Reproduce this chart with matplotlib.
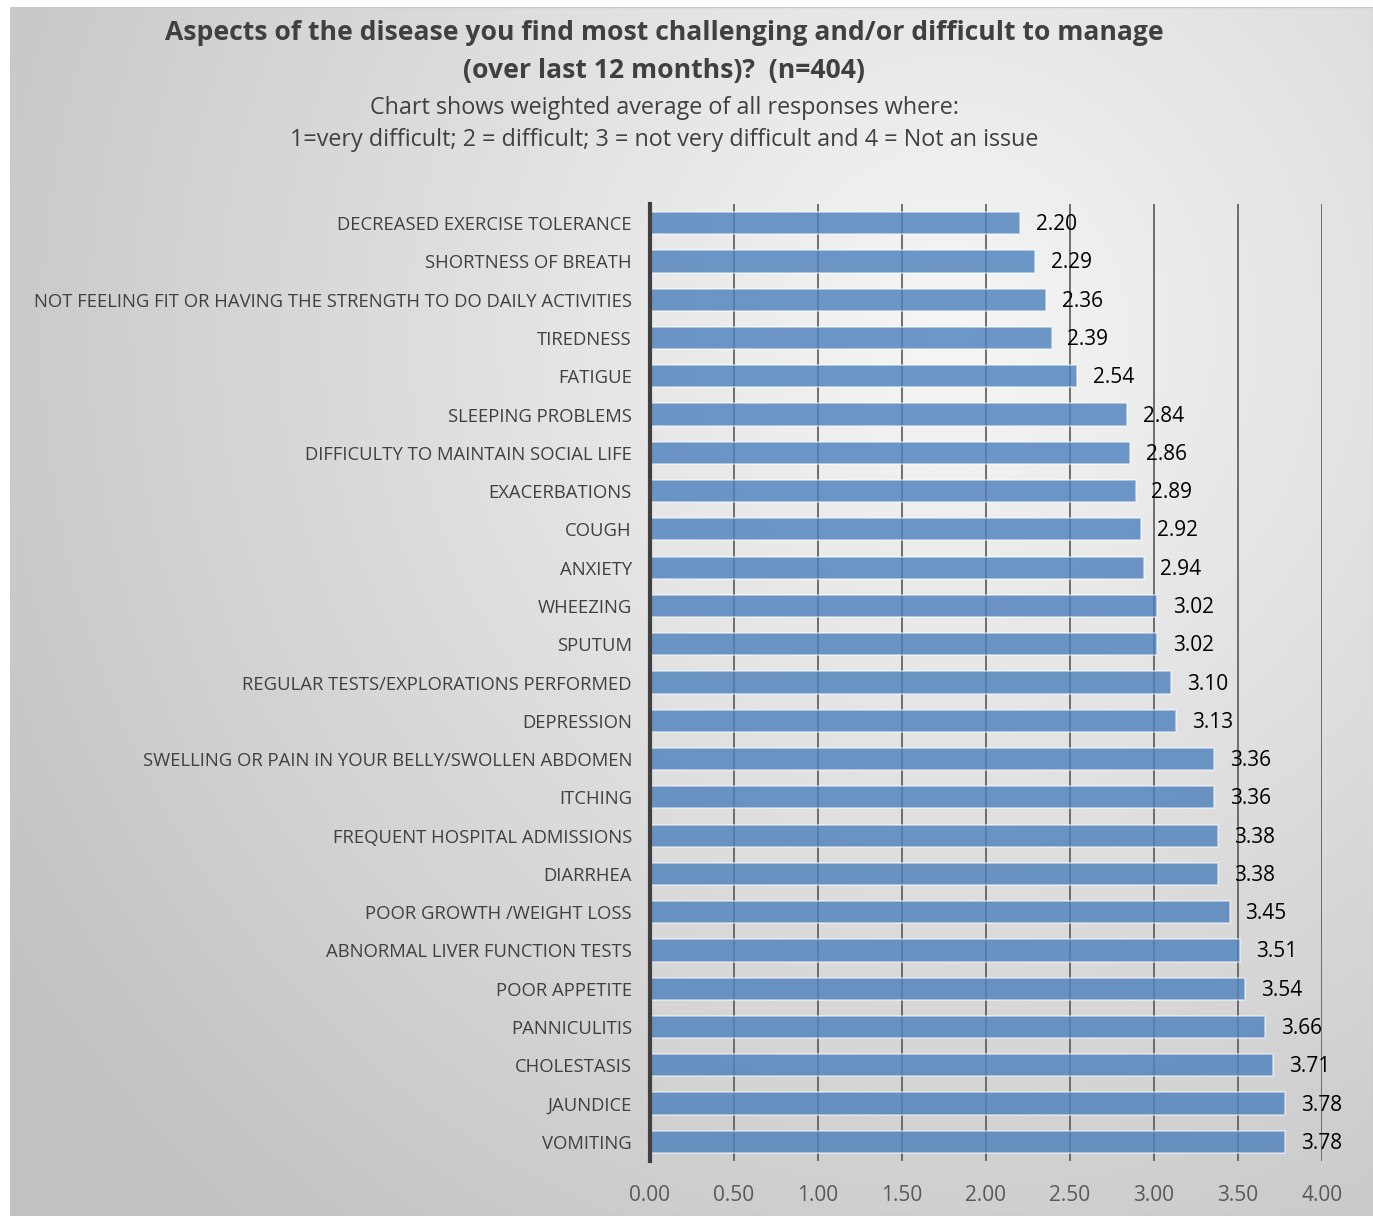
import numpy as np
import matplotlib
matplotlib.use("Agg")
import matplotlib.pyplot as plt

categories = [
    "DECREASED EXERCISE TOLERANCE",
    "SHORTNESS OF BREATH",
    "NOT FEELING FIT OR HAVING THE STRENGTH TO DO DAILY ACTIVITIES",
    "TIREDNESS",
    "FATIGUE",
    "SLEEPING PROBLEMS",
    "DIFFICULTY TO MAINTAIN SOCIAL LIFE",
    "EXACERBATIONS",
    "COUGH",
    "ANXIETY",
    "WHEEZING",
    "SPUTUM",
    "REGULAR TESTS/EXPLORATIONS PERFORMED",
    "DEPRESSION",
    "SWELLING OR PAIN IN YOUR BELLY/SWOLLEN ABDOMEN",
    "ITCHING",
    "FREQUENT HOSPITAL ADMISSIONS",
    "DIARRHEA",
    "POOR GROWTH /WEIGHT LOSS",
    "ABNORMAL LIVER FUNCTION TESTS",
    "POOR APPETITE",
    "PANNICULITIS",
    "CHOLESTASIS",
    "JAUNDICE",
    "VOMITING",
]
values = [2.20, 2.29, 2.36, 2.39, 2.54, 2.84, 2.86, 2.89, 2.92, 2.94,
          3.02, 3.02, 3.10, 3.13, 3.36, 3.36, 3.38, 3.38, 3.45, 3.51,
          3.54, 3.66, 3.71, 3.78, 3.78]
x_ticks = [0.0, 0.5, 1.0, 1.5, 2.0, 2.5, 3.0, 3.5, 4.0]

title = ("Aspects of the disease you find most challenging and/or difficult to manage\n"
         "(over last 12 months)?  (n=404)")
subtitle = ("Chart shows weighted average of all responses where:\n"
            "1=very difficult; 2 = difficult; 3 = not very difficult and 4 = Not an issue")

plt.rcParams['font.family'] = ['Open Sans', 'DejaVu Sans']

W, H = 1373, 1216
fig = plt.figure(figsize=(W / 100, H / 100), dpi=100)
fig.patch.set_facecolor("white")

# radial grey background panel
bg = fig.add_axes([10 / W, 0, (W - 10) / W, (H - 7) / H])
bg.set_axis_off()
ny, nx = 400, 450
yy, xx = np.mgrid[0:ny, 0:nx]
px = xx / nx * (W - 10) + 10
py = yy / ny * (H - 7) + 7
d = np.sqrt(((px - 950) / 1100) ** 2 + ((py - 330) / 1150) ** 2)
shade = np.clip(0.965 - 0.20 * d, 0.76, 0.97)
bg.imshow(np.dstack([shade] * 3), aspect="auto", extent=[0, 1, 0, 1],
          origin="upper", interpolation="bilinear")
bg.set_xlim(0, 1)
bg.set_ylim(0, 1)
bg.add_patch(plt.Rectangle((0, 0), 1, 1, fill=False, ec="#c8c8c8", lw=1,
                           transform=bg.transAxes))

# plotting area
x0, x1 = 650, 1322
y_top, y_bot = 204, 1161
ax = fig.add_axes([x0 / W, 1 - y_bot / H, (x1 - x0) / W, (y_bot - y_top) / H])
ax.patch.set_alpha(0)

pos = np.arange(len(categories))
ax.barh(pos, values, height=0.58, color=(0.31, 0.51, 0.74, 0.82),
        edgecolor=(1, 1, 1, 0.55), linewidth=1.2, zorder=3)
for p, v in zip(pos, values):
    ax.text(v + 0.095, p + 0.04, f"{v:.2f}", va="center", ha="left",
            fontsize=15, color="black", zorder=4)

ax.set_xlim(0, 4)
ax.set_ylim(len(categories) - 0.5, -0.5)
ax.set_xticks(x_ticks)
ax.set_xticklabels([f"{t:.2f}" for t in x_ticks])
ax.set_yticks(pos)
ax.set_yticklabels(categories)
ax.tick_params(axis="y", length=0, pad=13, labelsize=13.3, labelcolor="#404040")
ax.tick_params(axis="x", length=0, pad=17, labelsize=15, labelcolor="#595959")
ax.grid(axis="x", color=(0.35, 0.35, 0.35, 0.22), linewidth=1.2, zorder=1)
for s in ["top", "right", "bottom"]:
    ax.spines[s].set_visible(False)
ax.spines["left"].set_color("#404040")
ax.spines["left"].set_linewidth(3)
ax.spines["left"].set_zorder(5)

fig.text(664 / W, 1 - 52 / H, title, ha="center", va="center",
         fontsize=19.1, fontweight="bold", color="#404040", linespacing=1.6)
fig.text(664 / W, 1 - 124 / H, subtitle, ha="center", va="center",
         fontsize=16.8, color="#404040", linespacing=1.45)

fig.savefig("out.png", dpi=100)
